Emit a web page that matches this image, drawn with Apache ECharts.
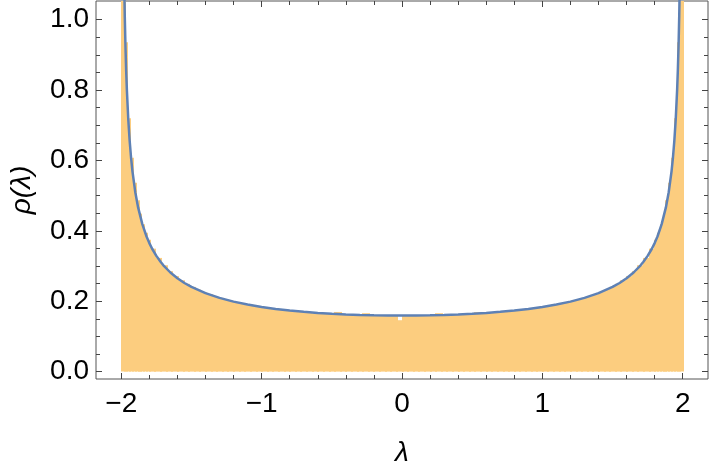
<!DOCTYPE html>
<html>
<head>
<meta charset="utf-8">
<script src="https://cdn.jsdelivr.net/npm/echarts@6/dist/echarts.min.js"></script>
<style>html,body{margin:0;padding:0;background:#fff;}#c{width:710px;height:467px;}</style>
</head>
<body>
<div id="c"></div>
<script>
// Histogram bin edges (0.02 wide near the ends, 0.04 in the middle) and heights
const binEdges = [
  -2,-1.98,-1.96,-1.94,-1.92,-1.9,-1.88,-1.86,-1.84,-1.82,-1.8,
  -1.76,-1.72,-1.68,-1.64,-1.6,-1.56,-1.52,-1.48,-1.44,-1.4,-1.36,-1.32,-1.28,-1.24,-1.2,
  -1.16,-1.12,-1.08,-1.04,-1,-0.96,-0.92,-0.88,-0.84,-0.8,-0.76,-0.72,-0.68,-0.64,-0.6,
  -0.56,-0.52,-0.48,-0.44,-0.4,-0.36,-0.32,-0.28,-0.24,-0.2,-0.16,-0.12,-0.08,-0.04,0,
  0.04,0.08,0.12,0.16,0.2,0.24,0.28,0.32,0.36,0.4,0.44,0.48,0.52,0.56,0.6,
  0.64,0.68,0.72,0.76,0.8,0.84,0.88,0.92,0.96,1,1.04,1.08,1.12,1.16,1.2,
  1.24,1.28,1.32,1.36,1.4,1.44,1.48,1.52,1.56,1.6,1.64,1.68,1.72,1.76,1.8,
  1.82,1.84,1.86,1.88,1.9,1.92,1.94,1.96,1.98,2
];
const binHeights = [
  2.2527,0.9358,0.7199,0.6075,0.5368,0.4868,0.4490,0.4190,0.3948,0.3745,
  0.3493,0.3230,0.3022,0.2854,0.2714,
  0.2596,0.2494,0.2406,0.2329,0.2260,0.2199,0.2144,0.2094,0.2049,0.2009,
  0.1971,0.1937,0.1906,0.1877,0.1850,0.1826,0.1803,0.1782,0.1763,0.1745,
  0.1728,0.1713,0.1699,0.1686,0.1674,0.1663,0.1653,0.1644,0.1695,0.1628,
  0.1621,0.1615,0.1610,0.1660,0.1601,0.1598,0.1596,0.1594,0.1592,0.1460,
  0.1592,0.1592,0.1594,0.1596,0.1598,0.1601,0.1660,0.1610,0.1615,0.1621,
  0.1628,0.1635,0.1644,0.1690,0.1663,0.1674,0.1686,0.1699,0.1713,0.1728,
  0.1745,0.1763,0.1782,0.1803,0.1826,0.1850,0.1877,0.1906,0.1937,0.1971,
  0.2009,0.2049,0.2094,0.2144,0.2199,0.2260,0.2329,0.2406,0.2494,0.2596,
  0.2714,0.2854,0.3022,0.3230,0.3493,
  0.3745,0.3948,0.4190,0.4490,0.4868,0.5368,0.6075,0.7199,0.9358,2.2527
];
// Density curve
const curveX = [
  -1.995,-1.99,-1.985,-1.98,-1.975,-1.97,-1.965,-1.96,-1.95,-1.94,-1.93,-1.92,-1.9,-1.88,-1.85,
  -1.82,-1.8,-1.78,-1.75,-1.72,-1.7,-1.65,-1.6,-1.55,-1.5,-1.4,-1.3,-1.2,-1.1,-1.0,
  -0.9,-0.8,-0.7,-0.6,-0.5,-0.4,-0.3,-0.2,-0.1,0,
  0.1,0.2,0.3,0.4,0.5,0.6,0.7,0.8,0.9,1.0,
  1.1,1.2,1.3,1.4,1.5,1.55,1.6,1.65,1.7,1.72,1.75,1.78,1.8,1.82,
  1.85,1.88,1.9,1.92,1.93,1.94,1.95,1.96,1.965,1.97,1.975,1.98,1.985,1.99,1.995
];
const curveY = [
  2.2522,1.5935,1.3019,1.1282,1.0098,0.9223,0.8545,0.7998,0.7162,0.6547,0.6069,0.5684,0.5097,0.4665,0.4189,
  0.3839,0.3651,0.3491,0.3288,0.3119,0.3021,0.2816,0.2653,0.2518,0.2406,0.2229,0.2094,0.1989,0.1906,0.1838,
  0.1782,0.1737,0.1699,0.1668,0.1644,0.1624,0.1610,0.1600,0.1594,0.1592,
  0.1594,0.1600,0.1610,0.1624,0.1644,0.1668,0.1699,0.1737,0.1782,0.1838,
  0.1906,0.1989,0.2094,0.2229,0.2406,0.2518,0.2653,0.2816,0.3021,0.3119,0.3288,0.3491,0.3651,0.3839,
  0.4189,0.4665,0.5097,0.5684,0.6069,0.6547,0.7162,0.7998,0.8545,0.9223,1.0098,1.1282,1.3019,1.5935,2.2522
];
const xMajor = [-2,-1,0,1,2];
const xMinor = [-1.8,-1.6,-1.4,-1.2,-0.8,-0.6,-0.4,-0.2,0.2,0.4,0.6,0.8,1.2,1.4,1.6,1.8];
const yMajor = [0,0.2,0.4,0.6,0.8,1.0];
const yMinor = [0.05,0.1,0.15,0.25,0.3,0.35,0.45,0.5,0.55,0.65,0.7,0.75,0.85,0.9,0.95];
const xRange = [-2.18, 2.18];
const yRange = [-0.021, 1.053];

const histData = binHeights.map((h, i) => [binEdges[i], binEdges[i + 1], h]);
const curveData = curveX.map((x, i) => [x, curveY[i]]);

const FONT = 'Liberation Sans';
const tickColor = '#444';
function fmtX(v){ return v < 0 ? '\u2212' + Math.abs(v) : String(v); }
function fmtY(v){ return Number(v).toFixed(1); }

function xAx(pos, vals, len, labels){
  return {
    type: 'value', position: pos, min: xRange[0], max: xRange[1],
    axisLine: {show: false, onZero: false},
    splitLine: {show: false},
    axisTick: {show: true, inside: true, length: len, customValues: vals, lineStyle: {color: tickColor, width: 1}},
    axisLabel: labels ? {show: true, customValues: vals, formatter: fmtX, margin: 11, color: '#000', fontSize: 28, fontFamily: FONT} : {show: false}
  };
}
function yAx(pos, vals, len, labels){
  return {
    type: 'value', position: pos, min: yRange[0], max: yRange[1],
    axisLine: {show: false, onZero: false},
    splitLine: {show: false},
    axisTick: {show: true, inside: true, length: len, customValues: vals, lineStyle: {color: tickColor, width: 1}},
    axisLabel: labels ? {show: true, customValues: vals, formatter: fmtY, margin: 7, color: '#000', fontSize: 28, fontFamily: FONT} : {show: false}
  };
}

const xAxes = [xAx('bottom', xMajor, 6, true), xAx('bottom', xMinor, 4, false), xAx('top', xMajor, 6, false), xAx('top', xMinor, 4, false)];
const yAxes = [yAx('left', yMajor, 6, true), yAx('left', yMinor, 4, false), yAx('right', yMajor, 6, false), yAx('right', yMinor, 4, false)];
Object.assign(xAxes[0], {name: '\u03bb', nameLocation: 'middle', nameGap: 60, nameTextStyle: {fontSize: 28, fontStyle: 'italic', fontFamily: FONT, color: '#000'}});
Object.assign(yAxes[0], {name: '\u03c1(\u03bb)', nameLocation: 'middle', nameGap: 60, nameTextStyle: {fontSize: 28, fontStyle: 'italic', fontFamily: FONT, color: '#000'}});

const chart = echarts.init(document.getElementById('c'), null, {renderer: 'canvas'});
chart.setOption({
  animation: false,
  backgroundColor: '#fff',
  grid: {left: 96, right: 2, top: 1, bottom: 88, containLabel: false, outerBoundsMode: 'none', show: true, borderColor: '#555', borderWidth: 1, backgroundColor: 'transparent'},
  xAxis: xAxes,
  yAxis: yAxes,
  series: [
    {
      type: 'custom',
      xAxisIndex: 0, yAxisIndex: 0,
      clip: true,
      data: histData,
      renderItem: function(params, api){
        const p0 = api.coord([api.value(0), api.value(2)]);
        const p1 = api.coord([api.value(1), 0]);
        return {
          type: 'rect',
          shape: {x: Math.floor(p0[0]), y: p0[1], width: Math.ceil(p1[0]) - Math.floor(p0[0]) + 1, height: p1[1] - p0[1]},
          style: {fill: '#FCCD7F'}
        };
      }
    },
    {
      type: 'line',
      xAxisIndex: 0, yAxisIndex: 0,
      data: curveData,
      showSymbol: false,
      smooth: false,
      clip: true,
      lineStyle: {color: '#5E81B5', width: 2.5}
    }
  ]
});
</script>
</body>
</html>
